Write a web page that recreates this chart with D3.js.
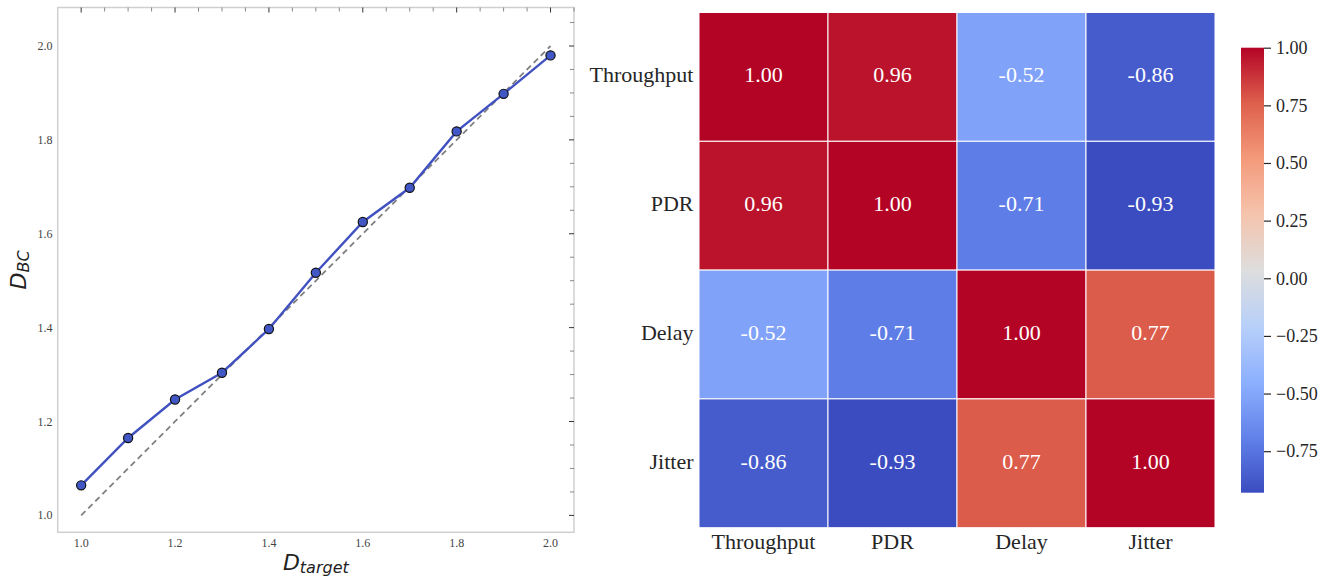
<!DOCTYPE html>
<html>
<head>
<meta charset="utf-8">
<script src="https://cdn.jsdelivr.net/npm/d3@7"></script>
<style>
  body { margin: 0; background: #fff; }
  svg { display: block; }
</style>
</head>
<body>
<svg id="chart" width="1333" height="579"></svg>
<script>
// ── data ──────────────────────────────────────────
const dTarget = [1.0, 1.1, 1.2, 1.3, 1.4, 1.5, 1.6, 1.7, 1.8, 1.9, 2.0];
const dBC     = [1.064, 1.165, 1.247, 1.304, 1.397, 1.517, 1.625, 1.698, 1.818, 1.898, 1.980];
const idealLine = [1.0, 2.0];

const metrics = ["Throughput", "PDR", "Delay", "Jitter"];
const corr = [
  [ 1.00,  0.96, -0.52, -0.86],
  [ 0.96,  1.00, -0.71, -0.93],
  [-0.52, -0.71,  1.00,  0.77],
  [-0.86, -0.93,  0.77,  1.00]
];
const axisTicks = [1.0, 1.2, 1.4, 1.6, 1.8, 2.0];
const cbarTicks = [1.00, 0.75, 0.50, 0.25, 0.00, -0.25, -0.50, -0.75];

// ── constants ─────────────────────────────────────
const SERIF = "'Liberation Serif','Times New Roman',serif";
const SANS  = "'DejaVu Sans',sans-serif";
const svg = d3.select("#chart");

// coolwarm (matplotlib) stops
const cwStops = ["#3b4cc0","#6282ea","#8db0fe","#b8d0f9","#dddddd","#f5c4ad","#f49a7b","#de604d","#b40426"];
const vmin = d3.min(corr.flat()), vmax = d3.max(corr.flat());
const color = d3.scaleLinear()
  .domain(cwStops.map((_, i) => vmin + (vmax - vmin) * i / (cwStops.length - 1)))
  .range(cwStops)
  .interpolate(d3.interpolateRgb);

// ── left: line plot ───────────────────────────────
const L = { left: 57.7, right: 574, top: 7.5, bottom: 532.3 };
const x = d3.scaleLinear().domain([0.95, 2.05]).range([L.left, L.right]);
const y = d3.scaleLinear().domain([0.964, 2.082]).range([L.bottom, L.top]);

const left = svg.append("g");

// 프레임
left.append("rect")
  .attr("x", L.left).attr("y", L.top)
  .attr("width", L.right - L.left).attr("height", L.bottom - L.top)
  .attr("fill", "none").attr("stroke", "#cfcfcf").attr("stroke-width", 1.5);

// 안쪽 눈금 (위, 오른쪽)
const minorX = d3.range(1.0, 2.051, 0.05);
const minorY = d3.range(1.0, 2.051, 0.05);
const isMajor = v => Math.abs(v * 5 - Math.round(v * 5)) < 1e-6;
left.append("g").selectAll("line").data(minorX).join("line")
  .attr("x1", d => x(d)).attr("x2", d => x(d))
  .attr("y1", L.top).attr("y2", d => L.top + (isMajor(d) ? 5 : 4))
  .attr("stroke", d => isMajor(d) ? "#333" : "#888").attr("stroke-width", 1);
left.append("g").selectAll("line").data(minorY).join("line")
  .attr("y1", d => y(d)).attr("y2", d => y(d))
  .attr("x1", L.right).attr("x2", d => L.right - (isMajor(d) ? 5 : 4))
  .attr("stroke", d => isMajor(d) ? "#333" : "#888").attr("stroke-width", 1);

// 눈금 라벨
left.append("g").selectAll("text").data(axisTicks).join("text")
  .attr("x", d => x(d)).attr("y", 542.5)
  .attr("text-anchor", "middle").attr("dominant-baseline", "central")
  .attr("font-family", SERIF).attr("font-size", 12).attr("fill", "#444")
  .text(d => d.toFixed(1));
left.append("g").selectAll("text").data(axisTicks).join("text")
  .attr("x", 52.5).attr("y", d => y(d))
  .attr("text-anchor", "end").attr("dominant-baseline", "central")
  .attr("font-family", SERIF).attr("font-size", 12).attr("fill", "#444")
  .text(d => d.toFixed(1));

// 축 라벨
const xl = left.append("text")
  .attr("x", (L.left + L.right) / 2).attr("y", 570)
  .attr("text-anchor", "middle")
  .attr("font-family", SANS).attr("font-style", "italic").attr("font-size", 22).attr("fill", "#222");
xl.append("tspan").text("D");
xl.append("tspan").attr("font-size", 16).attr("dy", 3).text("target");

const yl = left.append("text")
  .attr("transform", `translate(26,${(L.top + L.bottom) / 2}) rotate(-90)`)
  .attr("text-anchor", "middle")
  .attr("font-family", SANS).attr("font-style", "italic").attr("font-size", 22).attr("fill", "#222");
yl.append("tspan").text("D");
yl.append("tspan").attr("font-size", 16).attr("dy", 3).text("BC");

// 이상선 (y = x)
left.append("line")
  .attr("x1", x(idealLine[0])).attr("y1", y(idealLine[0]))
  .attr("x2", x(idealLine[1])).attr("y2", y(idealLine[1]))
  .attr("stroke", "#808080").attr("stroke-width", 1.8).attr("stroke-dasharray", "6,4");

// 데이터 선 + 마커
const pts = dTarget.map((d, i) => [d, dBC[i]]);
left.append("path")
  .attr("d", d3.line().x(d => x(d[0])).y(d => y(d[1]))(pts))
  .attr("fill", "none").attr("stroke", "#4152c0").attr("stroke-width", 2.4);
left.append("g").selectAll("circle").data(pts).join("circle")
  .attr("cx", d => x(d[0])).attr("cy", d => y(d[1])).attr("r", 4.6)
  .attr("fill", "#4257c6").attr("stroke", "#111").attr("stroke-width", 1.2);

// ── right: heatmap ────────────────────────────────
const H = { left: 699, right: 1215, top: 12.5, bottom: 527.7 };
const hx = d3.scaleBand().domain(metrics).range([H.left, H.right]);
const hy = d3.scaleBand().domain(metrics).range([H.top, H.bottom]);

const cells = [];
metrics.forEach((r, i) => metrics.forEach((c, j) => cells.push({ r, c, v: corr[i][j] })));

const heat = svg.append("g");
heat.selectAll("rect").data(cells).join("rect")
  .attr("x", d => hx(d.c)).attr("y", d => hy(d.r))
  .attr("width", hx.bandwidth()).attr("height", hy.bandwidth())
  .attr("fill", d => color(d.v))
  .attr("stroke", "#fff").attr("stroke-width", 1);

heat.selectAll("text.ann").data(cells).join("text")
  .attr("class", "ann")
  .attr("x", d => hx(d.c) + hx.bandwidth() / 2)
  .attr("y", d => hy(d.r) + hy.bandwidth() / 2 - 2)
  .attr("text-anchor", "middle").attr("dominant-baseline", "central")
  .attr("font-family", SERIF).attr("font-size", 22).attr("fill", "#fff")
  .text(d => d.v.toFixed(2));

heat.selectAll("text.row").data(metrics).join("text")
  .attr("class", "row")
  .attr("x", 693.5).attr("y", d => hy(d) + hy.bandwidth() / 2 - 2)
  .attr("text-anchor", "end").attr("dominant-baseline", "central")
  .attr("font-family", SERIF).attr("font-size", 22).attr("fill", "#262626")
  .text(d => d);

heat.selectAll("text.col").data(metrics).join("text")
  .attr("class", "col")
  .attr("x", d => hx(d) + hx.bandwidth() / 2).attr("y", 541)
  .attr("text-anchor", "middle").attr("dominant-baseline", "central")
  .attr("font-family", SERIF).attr("font-size", 22).attr("fill", "#262626")
  .text(d => d);

// ── colorbar ──────────────────────────────────────
const C = { left: 1241, right: 1264, top: 47.7, bottom: 492.7 };
const cy = d3.scaleLinear().domain([vmin, vmax]).range([C.bottom, C.top]);

const defs = svg.append("defs");
const grad = defs.append("linearGradient").attr("id", "cw")
  .attr("x1", 0).attr("y1", 1).attr("x2", 0).attr("y2", 0);
grad.selectAll("stop").data(cwStops).join("stop")
  .attr("offset", (d, i) => i / (cwStops.length - 1))
  .attr("stop-color", d => d);

svg.append("rect")
  .attr("x", C.left).attr("y", C.top)
  .attr("width", C.right - C.left).attr("height", C.bottom - C.top)
  .attr("fill", "url(#cw)");

const cbAxis = svg.append("g")
  .attr("transform", `translate(${C.right},0)`)
  .call(d3.axisRight(cy).tickValues(cbarTicks).tickSize(7).tickPadding(5)
    .tickFormat(d => d3.format(".2f")(d).replace("-", "\u2212")));
cbAxis.select(".domain").remove();
cbAxis.selectAll(".tick line").attr("stroke", "#262626").attr("stroke-width", 1.2);
cbAxis.selectAll(".tick text")
  .attr("font-family", SERIF).attr("font-size", 18).attr("fill", "#262626");
</script>
</body>
</html>
